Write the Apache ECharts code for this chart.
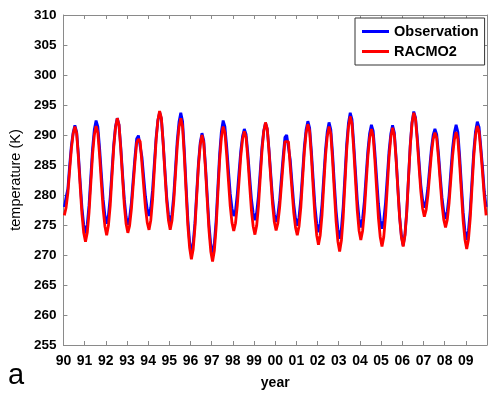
<!DOCTYPE html>
<html>
<head>
<meta charset="utf-8">
<script src="https://cdn.jsdelivr.net/npm/echarts@6/dist/echarts.min.js"></script>
<style>html,body{margin:0;padding:0;background:#fff;}#chart{width:491px;height:395px;}</style>
</head>
<body>
<div id="chart"></div>
<script>
const startYear = 1990;
const xTickLabels = ['90','91','92','93','94','95','96','97','98','99','00','01','02','03','04','05','06','07','08','09'];
const yTicks = [255,260,265,270,275,280,285,290,295,300,305,310];
const seriesNames = ['Observation','RACMO2'];
// monthly means (K), Jan..Dec per row, 1990-2009
const observation = [
278.0,279.6,281.0,284.8,288.2,290.4,291.6,290.5,286.7,282.2,277.9,275.0,
273.6,275.1,278.3,283.0,287.7,290.9,292.4,291.4,287.8,283.5,279.3,276.6,
275.2,276.6,279.6,284.0,288.4,291.4,292.8,291.7,288.0,283.5,279.3,276.4,
275.0,276.2,278.7,282.5,286.2,289.4,289.9,289.6,286.3,282.9,279.7,277.6,
276.5,277.9,280.8,285.2,289.5,292.4,293.8,292.7,288.8,284.2,279.7,276.8,
275.3,276.8,279.9,284.5,289.1,292.2,293.7,292.3,287.4,281.5,275.9,272.2,
270.3,271.9,275.3,280.3,285.3,288.7,290.3,289.1,284.8,279.8,275.0,271.7,
270.1,271.9,275.7,281.3,286.8,290.6,292.4,291.4,288.1,284.1,280.3,277.8,
276.5,277.4,280.1,283.8,287.4,289.8,291.0,290.1,286.9,283.1,279.4,277.0,
275.8,277.1,279.9,283.9,288.0,290.7,292.0,291.0,287.5,283.4,279.5,276.8,
275.5,276.7,279.1,282.8,286.4,289.6,290.0,289.7,285.9,282.1,278.5,276.1,
274.9,276.3,279.3,283.6,288.0,290.9,292.3,291.2,287.3,282.7,278.2,275.3,
273.8,275.3,278.4,283.0,287.5,290.6,292.1,290.9,286.9,282.0,277.4,274.3,
272.7,274.4,278.0,283.2,288.5,292.0,293.7,292.6,288.5,283.8,279.2,276.1,
274.6,276.0,278.9,283.2,287.4,290.3,291.7,290.7,287.0,282.7,278.5,275.8,
274.4,275.8,278.7,283.0,287.3,290.2,291.6,290.4,286.2,281.2,276.4,273.2,
271.6,273.4,277.2,282.8,288.3,292.1,293.9,292.9,289.6,285.6,281.7,279.2,
277.9,278.9,281.2,284.5,287.7,290.0,291.0,290.1,287.0,283.2,279.6,277.2,
276.0,277.3,279.9,283.9,287.8,290.4,291.7,290.5,286.5,281.7,277.1,274.0,
272.5,274.1,277.4,282.4,287.3,290.6,292.2,291.3,288.0,284.5,280.5,278.0
];
const racmo2 = [
276.6,277.9,280.3,284.0,287.7,290.2,291.4,290.3,286.2,281.4,276.8,273.7,
272.2,273.7,277.0,281.9,286.7,290.0,291.5,290.4,286.6,282.0,277.7,274.8,
273.3,274.9,278.2,283.1,287.9,291.2,292.8,291.7,287.6,282.9,278.3,275.2,
273.7,274.9,277.6,281.5,285.4,288.7,289.3,288.9,285.2,281.4,277.8,275.4,
274.2,275.8,279.2,284.1,289.1,292.4,294.0,292.8,288.7,283.7,279.0,275.8,
274.2,275.7,278.9,283.5,288.2,291.3,292.8,291.4,286.5,280.6,274.9,271.2,
269.3,270.9,274.5,279.7,284.8,288.3,290.0,288.7,284.3,279.0,274.0,270.6,
268.9,270.7,274.5,280.2,285.8,289.6,291.4,290.4,286.7,282.4,278.2,275.4,
274.0,275.3,278.2,282.3,286.5,289.3,290.6,289.6,286.0,281.7,277.5,274.8,
273.4,274.9,278.1,282.8,287.4,290.6,292.1,291.0,287.2,282.7,278.4,275.5,
274.1,275.3,277.9,281.6,285.4,288.9,289.1,288.9,284.8,280.9,277.1,274.6,
273.3,274.8,277.9,282.6,287.2,290.3,291.8,290.6,286.4,281.3,276.5,273.3,
271.7,273.3,276.6,281.6,286.5,289.8,291.4,290.2,285.8,280.6,275.6,272.3,
270.6,272.4,276.2,281.9,287.5,291.3,293.1,291.9,287.5,282.4,277.4,274.1,
272.5,274.0,277.1,281.8,286.4,289.5,291.0,289.8,285.7,280.8,276.1,273.0,
271.4,273.0,276.4,281.3,286.3,289.6,291.2,290.0,285.9,280.9,276.2,273.0,
271.4,273.2,277.0,282.6,288.1,291.9,293.7,292.7,289.0,284.7,280.6,277.8,
276.4,277.5,279.9,283.4,286.9,289.3,290.4,289.5,286.1,282.2,278.4,275.9,
274.6,275.9,278.6,282.6,286.5,289.2,290.5,289.3,285.2,280.4,275.7,272.6,
271.0,272.6,276.1,281.3,286.4,289.9,291.5,290.6,287.3,283.6,279.6,276.6
];

const toPairs = arr => arr.map((v, i) => [startYear + (i + 0.5) / 12, v]);
const FONT = "'Liberation Sans', Arial, Helvetica, sans-serif";
const axisGray = '#8a8a8a';

const chart = echarts.init(document.getElementById('chart'), null, {renderer: 'canvas'});
const xCommon = {
  type: 'value', min: startYear, max: startYear + xTickLabels.length, interval: 1,
  axisLine: {show: true, onZero: false, lineStyle: {color: axisGray, width: 1}},
  axisTick: {show: true, inside: true, length: 4, lineStyle: {color: axisGray}},
  splitLine: {show: false}
};
const yCommon = {
  type: 'value', min: yTicks[0], max: yTicks[yTicks.length - 1], interval: 5,
  axisLine: {show: true, onZero: false, lineStyle: {color: axisGray, width: 1}},
  axisTick: {show: true, inside: true, length: 4, lineStyle: {color: axisGray}},
  splitLine: {show: false}
};
chart.setOption({
  animation: false,
  backgroundColor: '#fff',
  grid: {left: 61, right: 4, top: 15, bottom: 43, containLabel: false},
  xAxis: [
    Object.assign({}, xCommon, {
      position: 'bottom',
      axisLabel: {show: true, margin: 9, color: '#000', fontFamily: FONT, fontWeight: 'bold', fontSize: 14,
        formatter: v => { const i = Math.round(v - startYear); return xTickLabels[i] !== undefined ? xTickLabels[i] : ''; }},
      name: 'year', nameLocation: 'middle', nameGap: 31,
      nameTextStyle: {color: '#000', fontFamily: FONT, fontWeight: 'bold', fontSize: 14}
    }),
    Object.assign({}, xCommon, {position: 'top', axisLabel: {show: false}})
  ],
  yAxis: [
    Object.assign({}, yCommon, {
      position: 'left',
      axisLabel: {show: true, margin: 7, color: '#000', fontFamily: FONT, fontWeight: 'bold', fontSize: 13.5},
      name: 'temperature (K)', nameLocation: 'middle', nameGap: 34, nameRotate: 90,
      nameTextStyle: {color: '#000', fontFamily: FONT, fontSize: 14.5}
    }),
    Object.assign({}, yCommon, {position: 'right', axisLabel: {show: false}})
  ],
  legend: {
    data: seriesNames, orient: 'vertical', left: 355, top: 18,
    backgroundColor: '#fff', borderColor: '#333', borderWidth: 1, borderRadius: 0,
    padding: [6, 6, 6, 7], itemGap: 5, itemWidth: 27, itemHeight: 3, icon: 'rect',
    textStyle: {color: '#000', fontFamily: FONT, fontWeight: 'bold', fontSize: 14.5}
  },
  graphic: [{type: 'text', left: 8, top: 361, style: {text: 'a', fontFamily: FONT, fontSize: 29, fill: '#000'}}],
  series: [
    {name: seriesNames[0], type: 'line', data: toPairs(observation), symbol: 'none', smooth: false,
     xAxisIndex: 0, yAxisIndex: 0, color: '#0000ff', lineStyle: {color: '#0000ff', width: 2.8}},
    {name: seriesNames[1], type: 'line', data: toPairs(racmo2), symbol: 'none', smooth: false,
     xAxisIndex: 0, yAxisIndex: 0, color: '#ff0000', lineStyle: {color: '#ff0000', width: 2.8}}
  ]
});
</script>
</body>
</html>
